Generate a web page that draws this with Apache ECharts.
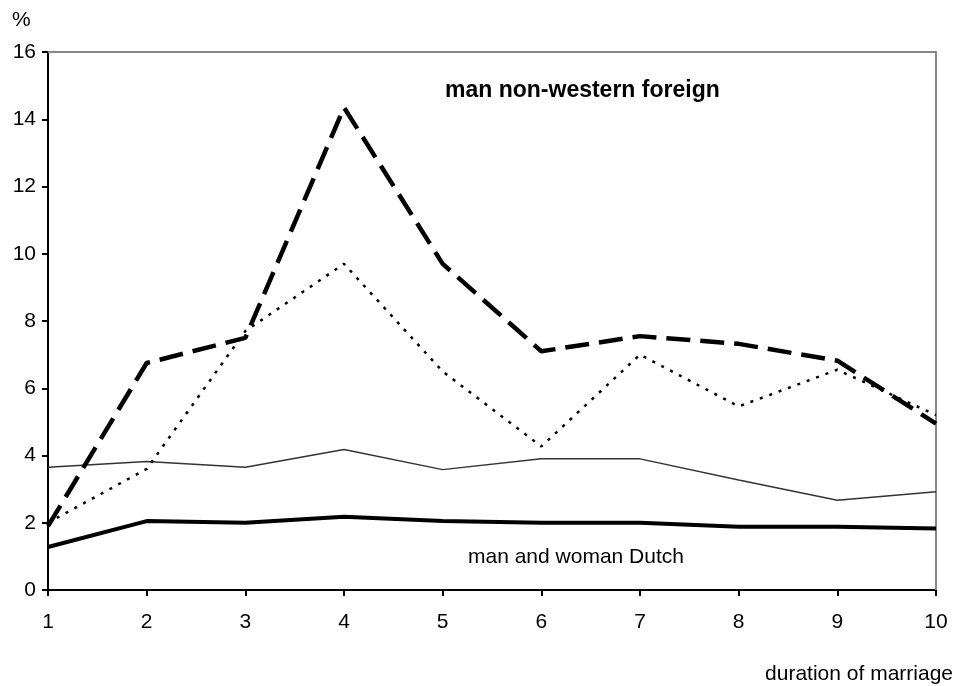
<!DOCTYPE html>
<html>
<head>
<meta charset="utf-8">
<script src="https://cdn.jsdelivr.net/npm/echarts@6/dist/echarts.min.js"></script>
<style>
  html, body { margin: 0; padding: 0; background: #fff; }
  #chart { width: 957px; height: 686px; }
</style>
</head>
<body>
<div id="chart"></div>
<script>
  // duration of marriage (years)
  var years = [1, 2, 3, 4, 5, 6, 7, 8, 9, 10]
  // man non-western foreign, thick dashed
  var nonWesternMan = [1.9, 6.75, 7.5, 14.35, 9.7, 7.1, 7.55, 7.32, 6.82, 4.95]
  // dotted line
  var dottedSeries = [2.0, 3.6, 7.7, 9.7, 6.5, 4.27, 7.0, 5.46, 6.55, 5.2]
  // thin grey line
  var thinSeries = [3.65, 3.82, 3.65, 4.18, 3.58, 3.9, 3.9, 3.27, 2.67, 2.92]
  // man and woman Dutch, thick solid
  var dutch = [1.28, 2.05, 2.0, 2.18, 2.05, 2.0, 2.0, 1.88, 1.88, 1.83]

  function pairs(vals) {
    var out = []
    for (var i = 0; i < years.length; i++) {
      out.push([years[i], vals[i]])
    }
    return out
  }

  var font = 'Liberation Sans, Arial, sans-serif'
  var chart = echarts.init(document.getElementById('chart'))

  chart.setOption({
    animation: false,
    backgroundColor: '#fff',
    grid: { left: 48, right: 21, top: 52, bottom: 96 },
    xAxis: {
      type: 'value',
      min: 1,
      max: 10,
      interval: 1,
      axisLine: { lineStyle: { color: '#000', width: 2 } },
      axisTick: { show: true, length: 6, lineStyle: { color: '#000', width: 2 } },
      axisLabel: { color: '#000', fontSize: 21, fontFamily: font, margin: 22 },
      splitLine: { show: false }
    },
    yAxis: {
      type: 'value',
      min: 0,
      max: 16,
      interval: 2,
      axisLine: { show: true, lineStyle: { color: '#000', width: 2 } },
      axisTick: { show: true, length: 6, lineStyle: { color: '#000', width: 2 } },
      axisLabel: { color: '#000', fontSize: 21, fontFamily: font, margin: 12 },
      splitLine: { show: false }
    },
    graphic: [
      // top and right frame
      { type: 'polyline', shape: { points: [[48, 52], [936, 52], [936, 590]] },
        style: { stroke: '#888', lineWidth: 2, fill: null }, z: 1 },
      { type: 'text', left: 12, top: 10,
        style: { text: '%', fontSize: 21, fontFamily: font, fill: '#000' } },
      { type: 'text', left: 445, top: 79,
        style: { text: 'man non-western foreign', fontSize: 23, fontWeight: 'bold', fontFamily: font, fill: '#000' } },
      { type: 'text', left: 468, top: 547,
        style: { text: 'man and woman Dutch', fontSize: 21, fontFamily: font, fill: '#000' } },
      { type: 'text', right: 4, top: 664,
        style: { text: 'duration of marriage', fontSize: 21, fontFamily: font, fill: '#000' } }
    ],
    series: [
      {
        name: 'man non-western foreign',
        type: 'line',
        data: pairs(nonWesternMan),
        symbol: 'none',
        lineStyle: { color: '#000', width: 4.5, type: [24, 10] },
        z: 4
      },
      {
        name: 'dotted',
        type: 'line',
        data: pairs(dottedSeries),
        symbol: 'none',
        lineStyle: { color: '#000', width: 2.5, type: [3, 7] },
        z: 3
      },
      {
        name: 'thin',
        type: 'line',
        data: pairs(thinSeries),
        symbol: 'none',
        lineStyle: { color: '#333', width: 1.5 },
        z: 2
      },
      {
        name: 'man and woman Dutch',
        type: 'line',
        data: pairs(dutch),
        symbol: 'none',
        lineStyle: { color: '#000', width: 4 },
        z: 2
      }
    ]
  })
</script>
</body>
</html>
